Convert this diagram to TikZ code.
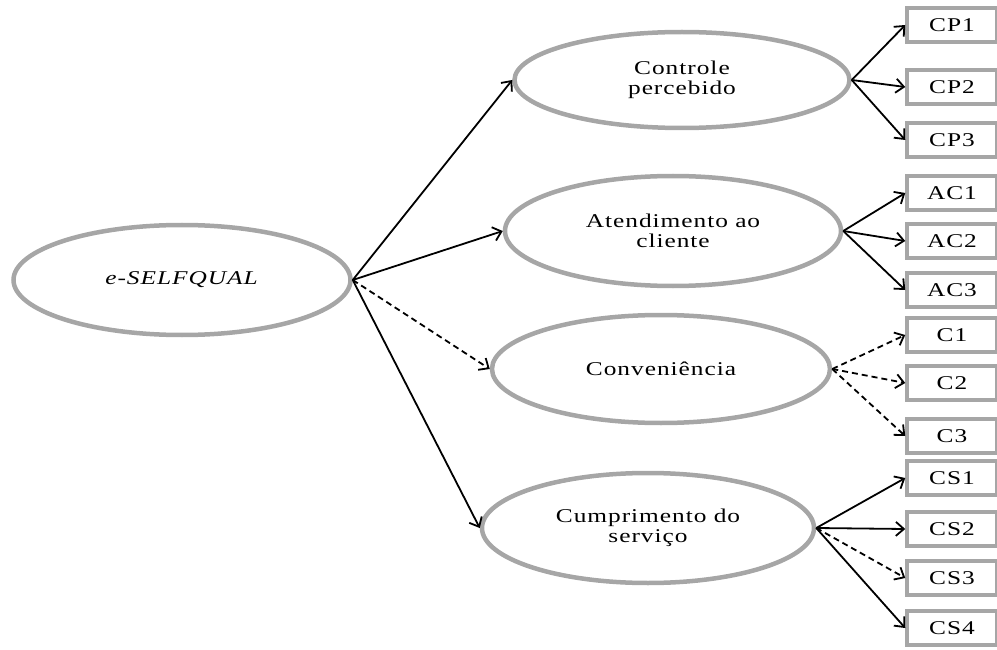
\documentclass[tikz,border=0pt]{standalone}
\usepackage{fontspec}
\setmainfont{Liberation Serif}[FakeStretch=1.3,LetterSpace=5]
\usetikzlibrary{shapes.geometric,arrows.meta}
\definecolor{linegray}{RGB}{166,166,166}

\begin{document}
\begin{tikzpicture}
        [x=1pt,y=-1pt,
         >={Straight Barb[length=8pt,width=14pt]},
         every node/.style={font=\fontsize{19.5}{20}\selectfont},
         factor/.style={ellipse,draw=linegray,line width=4.5pt,inner sep=0pt,align=center},
         item/.style={rectangle,draw=linegray,line width=3.5pt,minimum width=90pt,minimum height=34pt,inner sep=0pt},
         link/.style={->,line width=1.8pt},
         weaklink/.style={link,dash pattern=on 6pt off 4pt}]
        \clip (0,0) rectangle (997,650);

        \node[factor,minimum width=337pt,minimum height=110pt] (esq) at (182,280) {\textit{e-SELFQUAL}};
        \node[factor,minimum width=335pt,minimum height=96pt] (cp) at (682,80) {Controle\\percebido};
        \node[factor,minimum width=336pt,minimum height=110pt] (ac) at (673,231) {Atendimento ao\\cliente};
        \node[factor,minimum width=338pt,minimum height=108pt] (conv) at (661,369) {Conveniência};
        \node[factor,minimum width=332pt,minimum height=110pt] (cs) at (648,528) {Cumprimento do\\serviço};

        \foreach \name/\lab/\y in {cp1/CP1/25,cp2/CP2/87,cp3/CP3/140,
                                   ac1/AC1/193,ac2/AC2/241,ac3/AC3/290,
                                   c1/C1/335,c2/C2/383,c3/C3/436,
                                   cs1/CS1/478,cs2/CS2/529,cs3/CS3/578,cs4/CS4/628}
        {\node[item] (\name) at (952,\y) {\lab};}

        \draw[link] (esq.east) -- (cp.west);
        \draw[link] (esq.east) -- (ac.west);
        \draw[weaklink] (esq.east) -- (conv.west);
        \draw[link] (esq.east) -- (cs.west);

        \foreach \name in {cp1,cp2,cp3}
        {\draw[link] (cp.east) -- (\name.west);}
        \foreach \name in {ac1,ac2,ac3}
        {\draw[link] (ac.east) -- (\name.west);}
        \foreach \name in {c1,c2,c3}
        {\draw[weaklink] (conv.east) -- (\name.west);}
        \draw[link] (cs.east) -- (cs1.west);
        \draw[link] (cs.east) -- (cs2.west);
        \draw[weaklink] (cs.east) -- (cs3.west);
        \draw[link] (cs.east) -- (cs4.west);
      \end{tikzpicture}
\end{document}
